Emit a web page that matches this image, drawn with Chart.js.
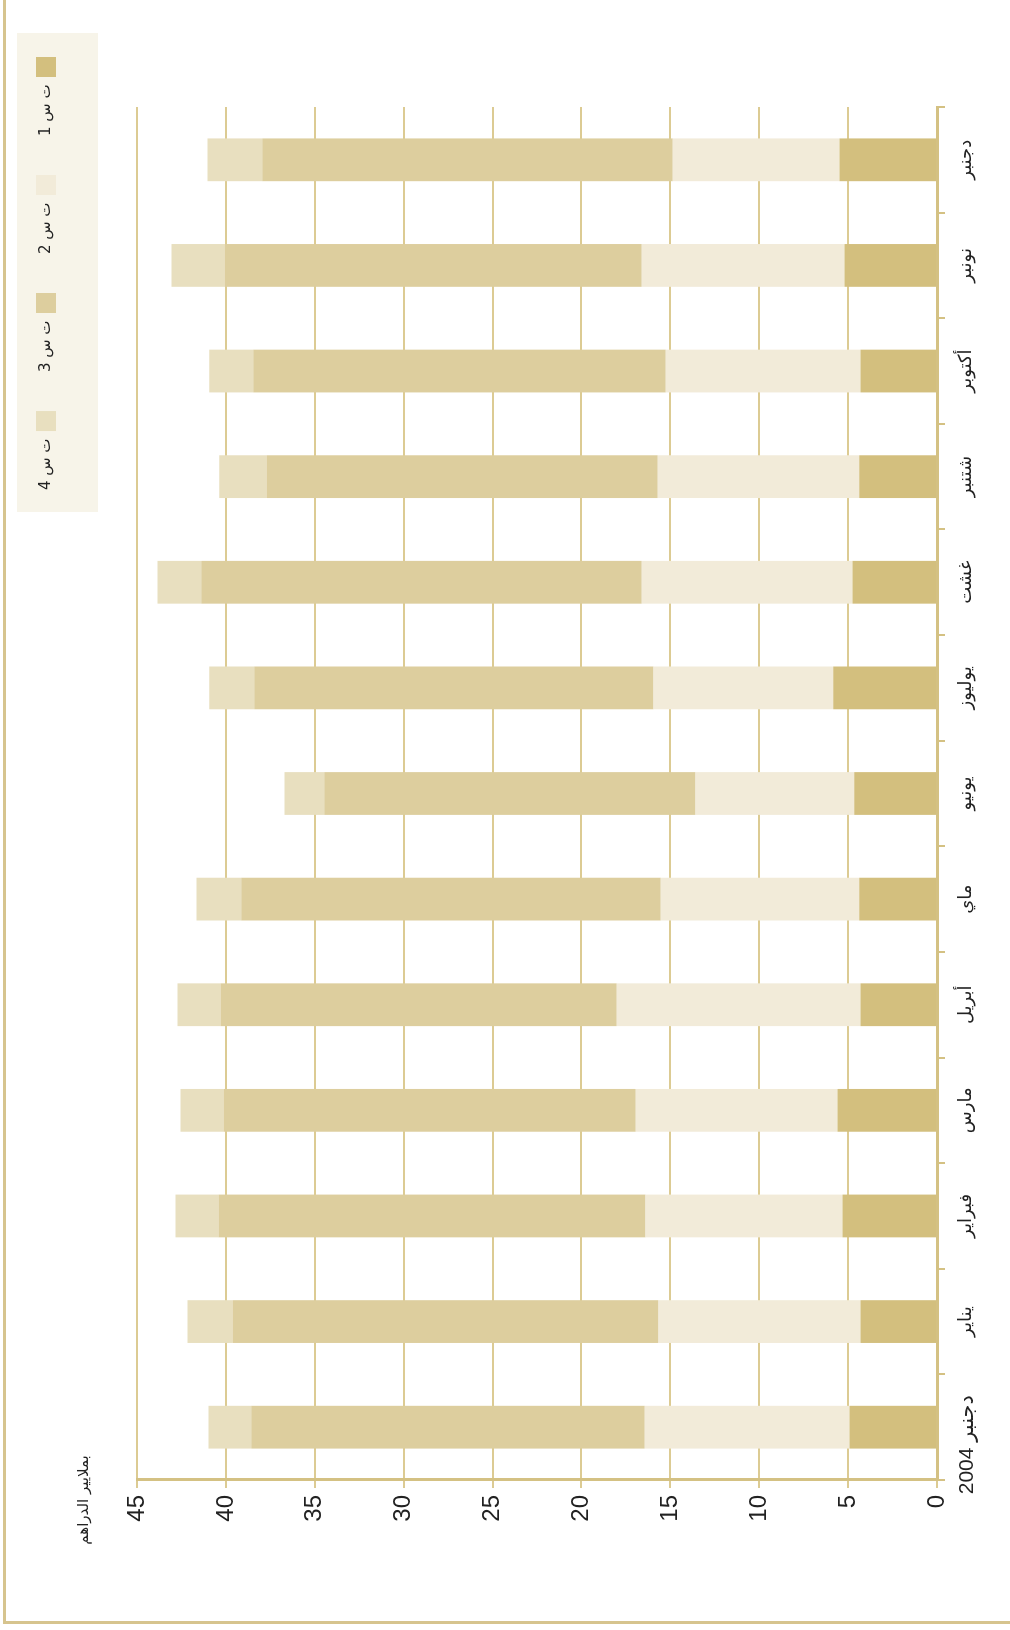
<!DOCTYPE html>
<html><head><meta charset="utf-8">
<script src="https://cdn.jsdelivr.net/npm/chart.js@4.4.1/dist/chart.umd.min.js"></script>
<style>
html,body{margin:0;padding:0;background:#fff;width:1010px;height:1630px;overflow:hidden;}
#frame{position:absolute;left:3px;top:-5px;width:1100px;height:1629px;box-sizing:border-box;border-left:3px solid #d6c48e;border-bottom:3px solid #d6c48e;}
#rot{position:absolute;left:0;top:0;width:1630px;height:1010px;transform-origin:0 0;transform:translateY(1630px) rotate(-90deg);}
</style></head><body>
<div id="frame"></div>
<div id="rot"><canvas id="c" width="1630" height="1010"></canvas></div>
<script>
const categories = ['دجنبر 2004','يناير','فبراير','مارس','أبريل','ماي','يونيو','يوليوز','غشت','شتنبر','أكتوبر','نونبر','دجنبر'];
const seriesNames = ['ت س 1','ت س 2','ت س 3','ت س 4'];
const series1 = [4.92, 4.31, 5.32, 5.60, 4.31, 4.37, 4.65, 5.83, 4.76, 4.37, 4.31, 5.21, 5.49];
const series2 = [11.52, 11.35, 11.07, 11.35, 13.71, 11.17, 8.93, 10.11, 11.85, 11.34, 10.95, 11.40, 9.38];
const series3 = [22.13, 23.97, 24.03, 23.19, 22.29, 23.59, 20.89, 22.46, 24.77, 22.01, 23.20, 23.47, 23.08];
const series4 = [2.41, 2.53, 2.42, 2.42, 2.41, 2.53, 2.24, 2.53, 2.47, 2.65, 2.47, 2.98, 3.09];
const valueTicks = [0, 5, 10, 15, 20, 25, 30, 35, 40, 45];
const axisTitle = 'بملايير الدراهم';
const colors = ['#d3bf7e', '#f2ebd9', '#ddce9e', '#e8dfbf'];
const gold = '#d4c183';

const extras = {
  id: 'extras',
  afterInit(chart) {
    const lg = chart.legend;
    const origFit = lg.fit.bind(lg);
    lg.fit = function () { origFit(); this.height = 140; };
  },
  beforeDraw(chart) {
    const ctx = chart.ctx;
    const lg = chart.legend;
    ctx.save();
    ctx.fillStyle = '#f7f4e9';
    ctx.fillRect(lg.right - 15 - 479, 17, 479, 81);
    ctx.restore();
  },
  afterDraw(chart) {
    const ctx = chart.ctx;
    const y = chart.scales.y;
    ctx.save();
    ctx.font = '15px "DejaVu Sans"';
    ctx.fillStyle = '#222';
    ctx.textAlign = 'center';
    ctx.textBaseline = 'middle';
    ctx.fillText(axisTitle, y.right - 20, 84);
    ctx.restore();
  }
};

new Chart(document.getElementById('c'), {
  type: 'bar',
  data: {
    labels: categories,
    datasets: [series1, series2, series3, series4].map((d, i) => ({
      label: seriesNames[i], data: d, backgroundColor: colors[i], borderWidth: 0,
      barPercentage: 0.405, categoryPercentage: 1
    }))
  },
  options: {
    responsive: false,
    animation: false,
    layout: { padding: { top: -3, right: 18, bottom: 0, left: 0 } },
    plugins: {
      tooltip: { enabled: false },
      legend: {
        position: 'top', align: 'start', rtl: true,
        labels: { boxWidth: 20, boxHeight: 20, padding: 39, color: '#222',
          font: { family: '"DejaVu Sans"', size: 15 } }
      }
    },
    scales: {
      x: {
        stacked: true,
        grid: { display: true, drawOnChartArea: false, drawTicks: true, tickLength: 8, color: gold, lineWidth: 2, offset: true },
        border: { display: true, color: gold, width: 3 },
        ticks: { color: '#222', padding: 10, maxRotation: 0, autoSkip: false,
          callback: (v, i) => i === 0 ? categories[i] + '\u2007\u2007\u2007' : categories[i],
          font: (c) => ({ family: '"Liberation Sans", "DejaVu Sans"', size: c.index === 0 ? 21 : 18 }) },
        afterFit: (s) => { s.height = 73; }
      },
      y: {
        stacked: true, min: 0, max: 45,
        afterBuildTicks: (s) => { s.ticks = valueTicks.map(v => ({ value: v })); },
        grid: { color: '#dccb93', lineWidth: 2, tickLength: 8, drawTicks: true },
        border: { display: true, color: gold, width: 3 },
        ticks: { color: '#222', padding: 7,
          font: { family: '"Liberation Sans Narrow", "Liberation Sans"', size: 24 } },
        afterFit: (s) => { s.width = 150; }
      },
      yR: {
        position: 'right', display: true, min: 0, max: 1,
        grid: { display: false }, border: { display: false }, ticks: { display: false },
        afterFit: (s) => { s.width = 89; }
      }
    }
  },
  plugins: [extras]
});
</script>
</body></html>
